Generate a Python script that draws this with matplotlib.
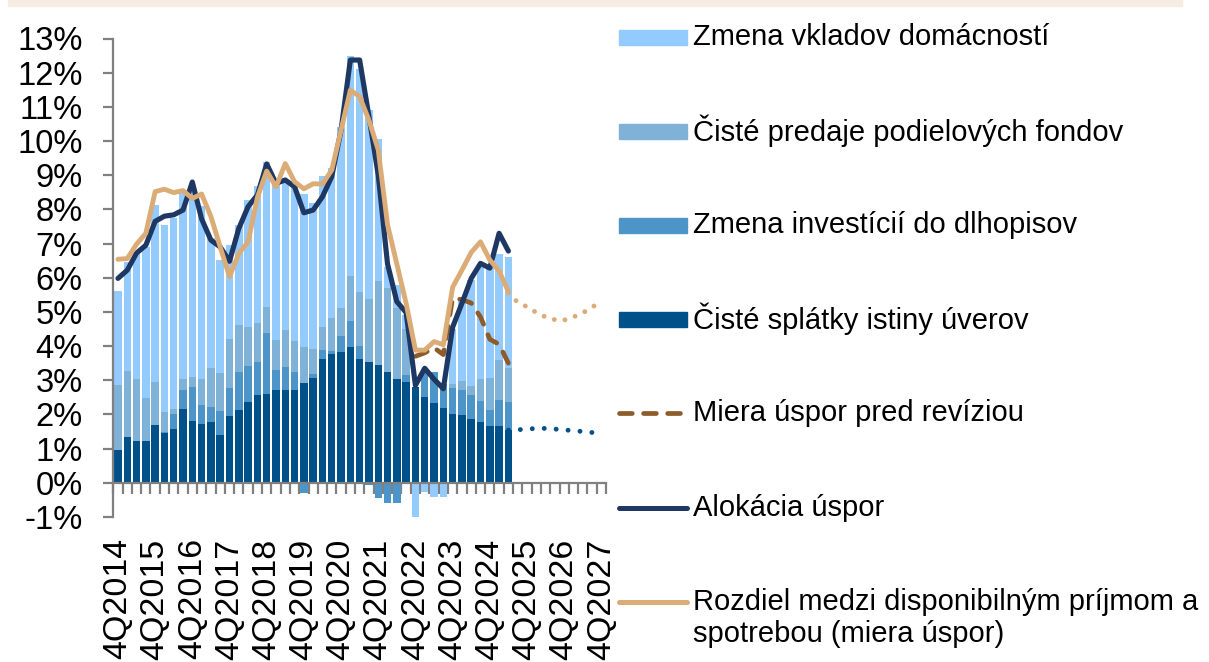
import matplotlib
matplotlib.use('Agg')
import matplotlib.pyplot as plt
import numpy as np
from matplotlib.patches import Rectangle
from matplotlib.lines import Line2D

plt.rcParams['font.family'] = ['Liberation Sans', 'DejaVu Sans']

# ---------------- data (percent) ----------------
tick_labels = ["4Q2014", "4Q2015", "4Q2016", "4Q2017", "4Q2018", "4Q2019", "4Q2020",
               "4Q2021", "4Q2022", "4Q2023", "4Q2024", "4Q2025", "4Q2026", "4Q2027"]
n_categories = 53  # quarters 4Q2014 .. 4Q2027

# stacked bars, 4Q2014 .. 2Q2025 (43 quarters)
loan_repay = [0.96, 1.34, 1.23, 1.23, 1.69, 1.46, 1.58, 2.17, 1.80, 1.72, 1.77, 1.40, 1.95, 2.13,
              2.35, 2.57, 2.60, 2.71, 2.71, 2.71, 2.92, 3.06, 3.62, 3.77, 3.82, 3.98, 3.62, 3.53,
              3.44, 3.25, 3.05, 2.96, 2.80, 2.52, 2.32, 2.19, 2.00, 1.98, 1.86, 1.79, 1.66, 1.66, 1.54]
bonds = [0.00, 0.00, 0.00, 0.00, 0.00, 0.03, 0.43, 0.55, 1.01, 0.56, 0.45, 0.70, 0.83, 1.12,
         1.07, 0.97, 1.79, 0.59, 0.69, 0.52, -0.31, 0.13, 0.26, 0.09, 0.48, 0.76, 0.39, -0.08,
         -0.46, -0.60, -0.58, 0.19, 0.00, 0.80, 0.93, 0.70, 0.76, 0.73, 0.71, 0.60, 0.47, 0.76, 0.83]
funds = [1.90, 1.94, 1.81, 1.25, 1.26, 0.58, 0.14, 0.31, 0.29, 0.75, 1.15, 1.12, 1.42, 1.37,
         1.15, 1.12, 0.76, 0.89, 1.08, 0.93, 1.06, 0.72, 0.69, 0.96, 0.82, 1.32, 1.58, 1.84,
         2.47, 2.45, 2.05, 1.35, 0.00, 0.00, 0.00, 0.00, 0.14, 0.28, 0.26, 0.64, 0.94, 1.17, 0.98]
deposits = [2.74, 3.17, 3.71, 4.42, 5.17, 5.47, 5.60, 5.44, 5.40, 5.07, 3.78, 3.30, 2.75, 2.92,
            3.69, 4.02, 4.25, 4.61, 4.30, 4.50, 4.48, 4.28, 4.41, 4.38, 5.28, 6.44, 6.51, 5.53,
            4.14, 0.60, 0.69, 0.40, -1.00, -0.26, -0.41, -0.41, 1.60, 2.36, 3.10, 3.32, 3.28, 3.11, 3.26]

# lines
allocation = [5.98, 6.22, 6.72, 6.95, 7.65, 7.80, 7.84, 7.98, 8.80, 7.72, 7.10, 6.90, 6.48, 7.44,
              8.08, 8.42, 9.33, 8.76, 8.86, 8.66, 7.90, 7.98, 8.37, 8.96, 10.32, 12.37, 12.37, 10.72,
              9.00, 6.40, 5.30, 4.98, 2.85, 3.35, 3.03, 2.75, 4.55, 5.25, 5.98, 6.42, 6.28, 7.30, 6.78]
saving_rate = [6.54, 6.56, 6.98, 7.30, 8.52, 8.59, 8.49, 8.55, 8.32, 8.45, 7.79, 6.90, 6.03, 6.71,
               7.05, 8.35, 9.12, 8.66, 9.34, 8.81, 8.60, 8.75, 8.74, 9.15, 10.32, 11.49, 11.30, 10.61,
               9.74, 7.55, 6.40, 5.25, 3.88, 3.88, 4.13, 4.04, 5.72, 6.22, 6.74, 7.05, 6.52, 6.20, 5.59]
saving_rate_old = [3.70, 3.80, 3.95, 3.75, 5.40, 5.36, 5.26, 4.85, 4.20, 4.05, 3.50]       # 4Q2022 .. 2Q2025
saving_rate_fcst = [5.55, 5.28, 5.15, 4.98, 4.85, 4.77, 4.76, 4.85, 4.97, 5.13, 5.33]      # 2Q2025 .. 4Q2027
loan_repay_fcst = [1.54, 1.55, 1.57, 1.59, 1.59, 1.57, 1.55, 1.52, 1.50, 1.47]             # 2Q2025 .. 3Q2027

labels = ["Zmena vkladov domácností",
          "Čisté predaje podielových fondov",
          "Zmena investícií do dlhopisov",
          "Čisté splátky istiny úverov",
          "Miera úspor pred revíziou",
          "Alokácia úspor",
          "Rozdiel medzi disponibilným príjmom a",
          "spotrebou (miera úspor)"]

# ---------------- style ----------------
C_DEP = '#94CBFF'
C_FUND = '#80B1D7'
C_BOND = '#4D95C8'
C_LOAN = '#005089'
C_ALLOC = '#1E3763'
C_RATE = '#DBAC76'
C_OLD = '#8E5B2A'
GRAY = '#808080'

W, H = 1209, 662
fig = plt.figure(figsize=(W / 100, H / 100), dpi=100)
fig.patches.append(Rectangle((8 / W, 1 - 6 / H), (1182 - 8) / W, 6 / H,
                             transform=fig.transFigure, color='#F6ECE1', zorder=0))

ax = fig.add_axes([113.3 / W, 1 - 516.9 / H, (606 - 113.3) / W, (516.9 - 38.5) / H])

x = np.arange(len(loan_repay))
pos_bottom = np.zeros(len(x))
neg_bottom = np.zeros(len(x))
for vals, col in [(loan_repay, C_LOAN), (bonds, C_BOND), (funds, C_FUND), (deposits, C_DEP)]:
    v = np.array(vals)
    bottom = np.where(v >= 0, pos_bottom, neg_bottom)
    ax.bar(x, v, bottom=bottom, width=0.8, color=col, linewidth=0, zorder=2)
    pos_bottom += np.clip(v, 0, None)
    neg_bottom += np.clip(v, None, 0)

x_old = np.arange(32, 32 + len(saving_rate_old))
ax.plot(x_old, saving_rate_old, color=C_OLD, lw=3.4, dashes=(2.7, 2.4),
        dash_capstyle='round', zorder=3)
ax.plot(x, allocation, color=C_ALLOC, lw=3.7, solid_capstyle='round',
        solid_joinstyle='round', zorder=4)
ax.plot(x, saving_rate, color=C_RATE, lw=3.5, solid_capstyle='round',
        solid_joinstyle='round', zorder=5)
x_rf = np.arange(42, 42 + len(saving_rate_fcst))
ax.plot(x_rf, saving_rate_fcst, color=C_RATE, lw=3.5, dashes=(0.01, 2.2),
        dash_capstyle='round', zorder=4.5)
x_lf = np.arange(42, 42 + len(loan_repay_fcst))
ax.plot(x_lf, loan_repay_fcst, color=C_LOAN, lw=3.5, dashes=(0.01, 2.45),
        dash_capstyle='round', zorder=3)

ax.set_xlim(-0.5, n_categories - 0.5)
ax.set_ylim(-1, 13)

for s in ['top', 'right']:
    ax.spines[s].set_visible(False)
ax.spines['left'].set_color(GRAY)
ax.spines['left'].set_linewidth(1.6)
ax.spines['bottom'].set_position(('data', 0))
ax.spines['bottom'].set_color(GRAY)
ax.spines['bottom'].set_linewidth(1.6)
ax.spines['bottom'].set_zorder(6)

yt = list(range(-1, 14))
ax.set_yticks(yt)
ax.set_yticklabels([f"{v}%" for v in yt])
ax.tick_params(axis='y', length=7.2, width=1.6, color=GRAY, pad=15, labelsize=23.5)

ax.set_xticks(np.arange(-0.5, n_categories, 1))
ax.set_xticklabels([])
ax.set_xticks(np.arange(0, n_categories, 4), minor=True)
ax.set_xticklabels(tick_labels, minor=True, rotation=90)
ax.tick_params(axis='x', which='major', length=7.7, width=1.6, color=GRAY, direction='out')
ax.tick_params(axis='x', which='minor', length=0, pad=40, labelsize=24.5)

# ---------------- legend (manual, Excel-like) ----------------
def fx(px):
    return px / W

def fy(py):
    return 1 - py / H

rows = [37, 131, 225, 319, 413, 508, 602]
patch_cols = [C_DEP, C_FUND, C_BOND, C_LOAN]
for yc, col in zip(rows[:4], patch_cols):
    fig.patches.append(Rectangle((fx(619), fy(yc + 7.5)), (687 - 619) / W, 15 / H,
                                 transform=fig.transFigure, color=col))
fig.lines.append(Line2D([fx(619), fx(687)], [fy(rows[4])] * 2, transform=fig.transFigure,
                        color=C_OLD, lw=3.4, dashes=(2.7, 2.4), dash_capstyle='round'))
fig.lines.append(Line2D([fx(619), fx(687)], [fy(rows[5])] * 2, transform=fig.transFigure,
                        color=C_ALLOC, lw=3.6, solid_capstyle='round'))
fig.lines.append(Line2D([fx(619), fx(687)], [fy(rows[6])] * 2, transform=fig.transFigure,
                        color=C_RATE, lw=3.6, solid_capstyle='round'))
for yc, lab in zip(rows, labels[:7]):
    fig.text(fx(693), fy(yc), lab, fontsize=21, va='center', ha='left')
fig.text(fx(693), fy(634), labels[7], fontsize=21, va='center', ha='left')

fig.savefig('out.png', dpi=100)
